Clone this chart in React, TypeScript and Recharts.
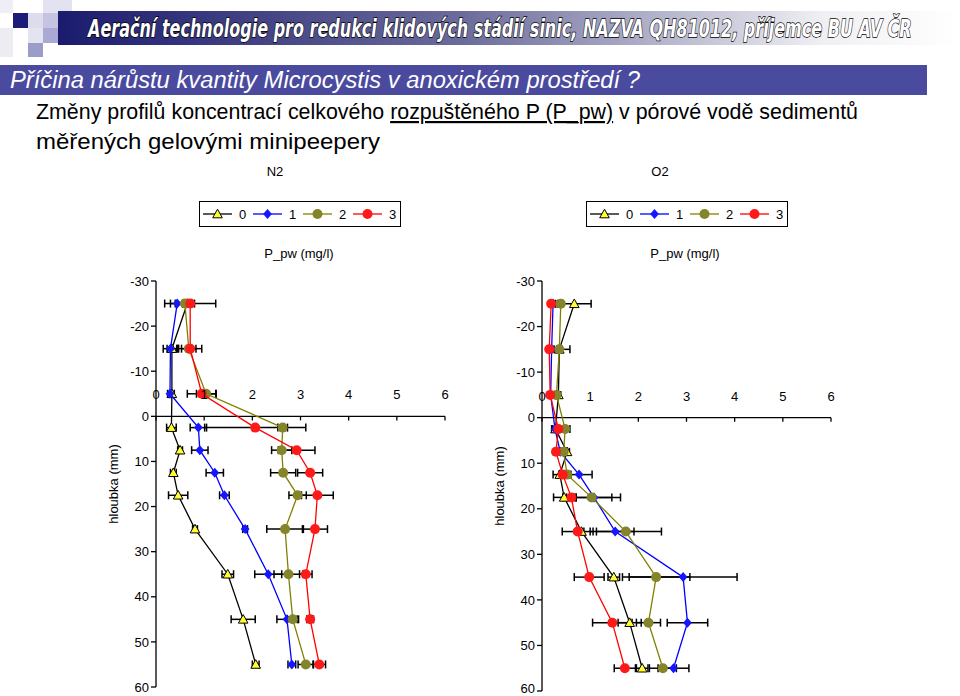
import React from "react";
import { ScatterChart, Scatter, XAxis, YAxis, ErrorBar, ReferenceLine } from "recharts";

// depth of each peeper cell (mm), negative = water column above sediment
const depths = [-25, -15, -5, 2.5, 7.5, 12.5, 17.5, 25, 35, 45, 55];
const seriesNames = ["0", "1", "2", "3"];
const pTicks = [0, 1, 2, 3, 4, 5, 6];
const depthTicks = [-30, -20, -10, 0, 10, 20, 30, 40, 50, 60];

// N2 treatment, P_pw (mg/l)
const n2S0 = [0.65, 0.33, 0.33, 0.32, 0.5, 0.36, 0.46, 0.81, 1.49, 1.81, 2.07];
const n2S1 = [0.44, 0.3, 0.29, 0.88, 0.91, 1.22, 1.42, 1.85, 2.33, 2.72, 2.82];
const n2S2 = [0.6, 0.68, 1.04, 2.63, 2.61, 2.64, 2.94, 2.68, 2.75, 2.84, 3.11];
const n2S3 = [0.71, 0.71, 0.95, 2.06, 2.92, 3.2, 3.35, 3.3, 3.11, 3.2, 3.39];
const n2E0 = [0.1, 0.1, 0.05, 0.1, 0.05, 0.06, 0.2, 0.05, 0.12, 0.25, 0.07];
const n2E1 = [0.14, 0.15, 0.05, 0.17, 0.17, 0.18, 0.1, 0.05, 0.28, 0.21, 0.08];
const n2E2 = [0.2, 0.15, 0.2, 0.1, 0.21, 0.26, 0.18, 0.38, 0.3, 0.12, 0.16];
const n2E3 = [0.53, 0.24, 0.3, 1.05, 0.38, 0.26, 0.33, 0.26, 0.13, 0.07, 0.13];

// O2 treatment, P_pw (mg/l)
const o2S0 = [0.67, 0.36, 0.34, 0.28, 0.52, 0.37, 0.46, 0.82, 1.49, 1.82, 2.08];
const o2S1 = [0.23, 0.2, 0.18, 0.27, 0.38, 0.77, 1.08, 1.52, 2.93, 3.02, 2.73];
const o2S2 = [0.39, 0.36, 0.3, 0.48, 0.45, 0.52, 1.03, 1.74, 2.37, 2.21, 2.51];
const o2S3 = [0.19, 0.15, 0.17, 0.34, 0.29, 0.43, 0.61, 0.74, 0.98, 1.46, 1.72];
const o2E0 = [0.35, 0.22, 0.05, 0.08, 0.05, 0.14, 0.22, 0.05, 0.12, 0.24, 0.12];
const o2E1 = [0.05, 0.05, 0.05, 0.05, 0.05, 0.27, 0.37, 0.39, 1.12, 0.42, 0.32];
const o2E2 = [0.05, 0.05, 0.05, 0.1, 0.05, 0.08, 0.6, 0.74, 0.7, 0.25, 0.28];
const o2E3 = [0.05, 0.05, 0.05, 0.05, 0.05, 0.08, 0.1, 0.32, 0.31, 0.41, 0.22];

const FONT = "'Liberation Sans', Arial, sans-serif";

const seriesStyle = [
  { line: "#000000", kind: "triangle", fill: "#ffff33" },
  { line: "#0000ff", kind: "diamond", fill: "#1515ff" },
  { line: "#808000", kind: "circle", fill: "#84842a" },
  { line: "#ff0000", kind: "circle", fill: "#ff1a1a" },
];

function Marker({ kind, cx, cy, fill }: { kind: string; cx: number; cy: number; fill: string }) {
  if (kind === "triangle")
    return (
      <polygon
        points={`${cx},${cy - 4.8} ${cx + 4.8},${cy + 3.8} ${cx - 4.8},${cy + 3.8}`}
        fill={fill}
        stroke="#000"
        strokeWidth={1}
      />
    );
  if (kind === "diamond")
    return <polygon points={`${cx},${cy - 5} ${cx + 4.4},${cy} ${cx},${cy + 5} ${cx - 4.4},${cy}`} fill={fill} />;
  return <circle cx={cx} cy={cy} r={5} fill={fill} />;
}

const toPoints = (vals: number[], errs: number[]) =>
  depths.map((d, i) => ({ p: vals[i], depth: d, err: errs[i] }));

function ProfileChart({ values, errors, left, bottom }: { values: number[][]; errors: number[][]; left: number; bottom: number }) {
  return (
    <div style={{ position: "absolute", left, top: 240 }}>
      <ScatterChart width={390} height={456} margin={{ top: 41, right: 5, bottom, left: 50 }}>
        <XAxis type="number" dataKey="p" domain={[0, 6]} hide />
        <YAxis
          type="number"
          dataKey="depth"
          domain={[-30, 60]}
          ticks={depthTicks}
          reversed
          width={46}
          tickSize={5}
          axisLine={{ stroke: "#000", strokeWidth: 1.3 }}
          tickLine={{ stroke: "#000", strokeWidth: 1.3 }}
          tick={{ fontSize: 13, fill: "#000", fontFamily: FONT }}
          label={(p: any) => {
            const vb = p.viewBox;
            const x = vb.x + 8;
            const y = vb.y + vb.height / 2;
            return (
              <text x={x} y={y} transform={`rotate(-90, ${x}, ${y})`} textAnchor="middle" fontSize={13} fontFamily={FONT} fill="#000">
                hloubka (mm)
              </text>
            );
          }}
        />
        <ReferenceLine y={0} stroke="#000" strokeWidth={1.3} />
        {pTicks.map((v) => (
          <ReferenceLine
            key={v}
            segment={[{ x: v, y: 0 }, { x: v, y: 0.9 }]}
            stroke="#000"
            strokeWidth={1.3}
            label={{ value: String(v), position: "top", offset: 17, fontSize: 13, fill: "#000", fontFamily: FONT }}
          />
        ))}
        {values.map((vals, i) => (
          <Scatter
            key={i}
            name={seriesNames[i]}
            data={toPoints(vals, errors[i])}
            line={{ stroke: seriesStyle[i].line, strokeWidth: 1.3 }}
            shape={(p: any) => <Marker kind={seriesStyle[i].kind} cx={p.cx} cy={p.cy} fill={seriesStyle[i].fill} />}
            isAnimationActive={false}
          >
            <ErrorBar dataKey="err" direction="x" width={4} stroke="#000" strokeWidth={1.5} />
          </Scatter>
        ))}
      </ScatterChart>
    </div>
  );
}

function LegendBox({ left, top }: { left: number; top: number }) {
  return (
    <svg width={202} height={26} style={{ position: "absolute", left, top }}>
      <rect x={0.5} y={0.5} width={201} height={25} fill="#fff" stroke="#000" />
      {seriesNames.map((name, i) => {
        const x0 = 4 + i * 50;
        return (
          <g key={name}>
            <line x1={x0} x2={x0 + 29} y1={13} y2={13} stroke={seriesStyle[i].line} strokeWidth={1.3} />
            <Marker kind={seriesStyle[i].kind} cx={x0 + 14.5} cy={13} fill={seriesStyle[i].fill} />
            <text x={x0 + 36} y={18} fontSize={13} fontFamily={FONT} fill="#000">
              {name}
            </text>
          </g>
        );
      })}
    </svg>
  );
}

function ChartCaption({ x, y, text }: { x: number; y: number; text: string }) {
  return (
    <div style={{ position: "absolute", left: x - 60, top: y, width: 120, textAlign: "center", fontSize: 13, fontFamily: FONT, color: "#000" }}>
      {text}
    </div>
  );
}

export default function App() {
  return (
    <div style={{ position: "absolute", left: 0, top: 0, width: 960, height: 696, background: "#fff", overflow: "hidden" }}>
      <svg width={960} height={160} style={{ position: "absolute", left: 0, top: 0 }}>
        <defs>
          <linearGradient id="hdr" x1="0" x2="1" y1="0" y2="0">
            <stop offset="0" stopColor="#1b1b6e" />
            <stop offset="0.45" stopColor="#6c6c9c" />
            <stop offset="0.85" stopColor="#f0f0f4" />
            <stop offset="1" stopColor="#ffffff" />
          </linearGradient>
        </defs>
        <rect x={0} y={0} width={13} height={13} fill="#eeeef4" />
        <rect x={0} y={28} width={13} height={29} fill="#ececf2" />
        <rect x={43} y={0} width={29} height={13} fill="#e2e2f0" />
        <rect x={13} y={13} width={15} height={15} fill="#1c1c78" />
        <rect x={28} y={13} width={15} height={15} fill="#dcdcec" />
        <rect x={43} y={13} width={15} height={15} fill="#c4c4e2" />
        <rect x={28} y={28} width={15} height={15} fill="#e4e4f0" />
        <rect x={43} y={28} width={15} height={15} fill="#a9a9d4" />
        <rect x={28} y={43} width={15} height={14} fill="#9c9cc8" />
        <rect x={58} y={11} width={902} height={34} fill="url(#hdr)" />
        <g transform="translate(88, 37) scale(0.742, 1)">
          <text
            x={0}
            y={0}
            fontFamily="'DejaVu Sans Condensed', 'DejaVu Sans', sans-serif"
            fontWeight="bold"
            fontStyle="italic"
            fontSize={24}
            fill="#fff"
            stroke="#000"
            strokeWidth={1.3}
            paintOrder="stroke"
          >
            Aerační technologie pro redukci klidových stádií sinic, NAZVA QH81012, příjemce BU AV ČR
          </text>
        </g>
        <rect x={0} y={65} width={927} height={30} fill="#4a4a9e" />
        <text x={10} y={88} textLength={630} lengthAdjust="spacingAndGlyphs" fontFamily={FONT} fontStyle="italic" fontSize={23} fill="#fff">
          Příčina nárůstu kvantity Microcystis v anoxickém prostředí ?
        </text>
        <text x={36} y={119} textLength={822} lengthAdjust="spacingAndGlyphs" fontFamily={FONT} fontSize={22} fill="#000">
          Změny profilů koncentrací celkového <tspan textDecoration="underline">rozpuštěného P (P_pw)</tspan> v pórové vodě sedimentů
        </text>
        <text x={36} y={149} textLength={344} lengthAdjust="spacingAndGlyphs" fontFamily={FONT} fontSize={22} fill="#000">
          měřených gelovými minipeepery
        </text>
      </svg>

      <ChartCaption x={275} y={164} text="N2" />
      <ChartCaption x={660} y={164} text="O2" />
      <LegendBox left={199} top={201} />
      <LegendBox left={586} top={201} />
      <ChartCaption x={299} y={246} text="P_pw  (mg/l)" />
      <ChartCaption x={685} y={246} text="P_pw  (mg/l)" />

      <ProfileChart values={[n2S0, n2S1, n2S2, n2S3]} errors={[n2E0, n2E1, n2E2, n2E3]} left={60} bottom={9} />
      <ProfileChart values={[o2S0, o2S1, o2S2, o2S3]} errors={[o2E0, o2E1, o2E2, o2E3]} left={446} bottom={5} />
    </div>
  );
}
